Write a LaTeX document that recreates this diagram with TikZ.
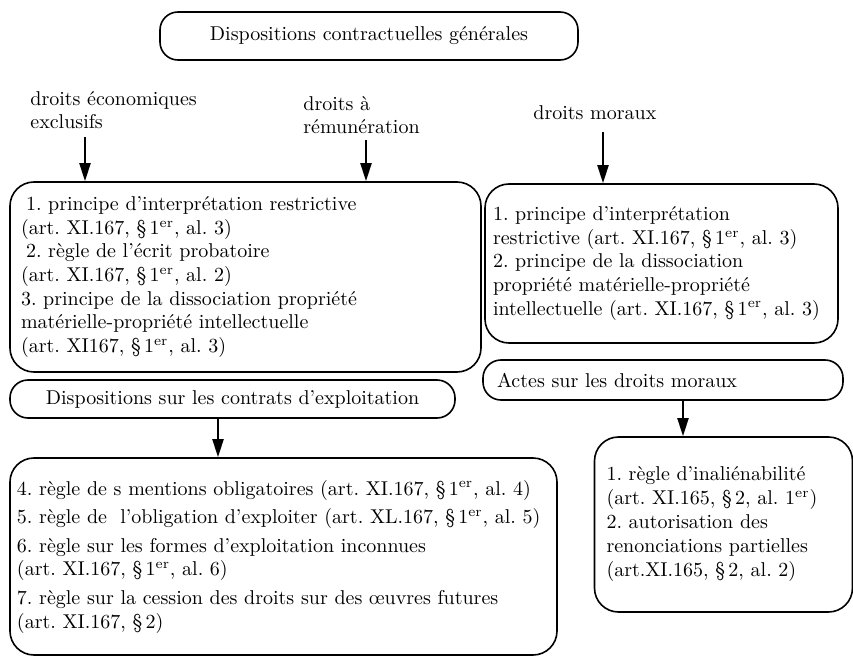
\documentclass[tikz,border=0pt]{standalone}
\usepackage{tikz}
\usetikzlibrary{arrows.meta, positioning}
\tikzstyle{block} = [rectangle, rounded corners=12pt, draw=black, line width=0.8pt, align=left, inner xsep=6pt, inner ysep=0pt]
\tikzstyle{pill} = [rectangle, rounded corners=9pt, draw=black, line width=0.8pt, inner sep=0pt]
\tikzstyle{head} = [align=left, inner sep=0pt, anchor=west]
\tikzstyle{arrow} = [line width=1pt, -{Triangle[length=9pt, width=5.5pt]}]

\begin{document}
\frenchspacing
\begin{tikzpicture}[x=0.5pt, y=-0.5pt, every node/.style={font=\fontsize{10}{11.8}\selectfont}]
      \useasboundingbox (0,0) rectangle (853,664);
      \node[pill, minimum width=209pt, minimum height=24pt] (gen) at (369,36) {Dispositions contractuelles générales};
      \node[head] (eco) at (30,110) {droits économiques\\exclusifs};
      \node[head] (rem) at (303,115) {droits à\\rémunération};
      \node[head] (mor) at (533,113) {droits moraux};

      \node[block, text width=224.5pt, inner xsep=5.5pt, minimum height=95pt] (commun) at (245.5,277) {\hspace*{2.5pt}1. principe d'interprétation restrictive\\(art. XI.167, \S\,1\textsuperscript{er}, al. 3)\\\hspace*{2.5pt}2. règle de l'écrit probatoire\\(art. XI.167, \S\,1\textsuperscript{er}, al. 2)\\3. principe de la dissociation propriété\\matérielle-propriété intellectuelle\\(art. XI167, \S\,1\textsuperscript{er}, al. 3)};
      \node[block, text width=168.5pt, inner xsep=4pt, minimum height=79.5pt] (moraux) at (661.5,263.5) {1. principe d'interprétation\\restrictive (art. XI.167, \S\,1\textsuperscript{er}, al. 3)\\2. principe de la dissociation\\propriété matérielle-propriété\\intellectuelle (art. XI.167, \S\,1\textsuperscript{er}, al. 3)};

      \node[pill, minimum width=222.5pt, minimum height=19pt] (exploit) at (232.5,399) {Dispositions sur les contrats d'exploitation};
      \node[pill, align=left, text width=166pt, inner xsep=7pt, minimum height=20pt] (actes) at (663,380) {Actes sur les droits moraux};

      \node[block, text width=266.5pt, inner xsep=3.5pt, minimum height=98.5pt] (contrats) at (283.5,556.5) {4. règle de s mentions obligatoires (art. XI.167, \S\,1\textsuperscript{er}, al. 4)\\[2.5pt]5. règle de\ \ l'obligation d'exploiter (art. XL.167, \S\,1\textsuperscript{er}, al. 5)\\[2.5pt]6. règle sur les formes d'exploitation inconnues\\(art. XI.167, \S\,1\textsuperscript{er}, al. 6)\\[2.5pt]7. règle sur la cession des droits sur des œuvres futures\\(art. XI.167, \S\,2)};
      \node[block, text width=117pt, minimum height=87.5pt, font=\fontsize{10}{12}\selectfont] (inalien) at (723.5,524.5) {1. règle d'inaliénabilité\\(art. XI.165, \S\,2, al. 1\textsuperscript{er})\\2. autorisation des\\renonciations partielles\\(art.XI.165, \S\,2, al. 2)};

      \coordinate (x1) at (85,0);
      \coordinate (x2) at (366,0);
      \coordinate (x3) at (603,0);
      \coordinate (x4) at (218,0);
      \coordinate (x5) at (683,0);
      \draw[arrow, shorten <=4pt] (eco.south -| x1) -- (commun.north -| x1);
      \draw[arrow, shorten <=3pt] (rem.south -| x2) -- (commun.north -| x2);
      \draw[arrow, shorten <=6pt] (mor.south -| x3) -- (moraux.north -| x3);
      \draw[arrow] (exploit.south -| x4) -- (contrats.north -| x4);
      \draw[arrow] (actes.south -| x5) -- (inalien.north -| x5);
    \end{tikzpicture}
\end{document}
